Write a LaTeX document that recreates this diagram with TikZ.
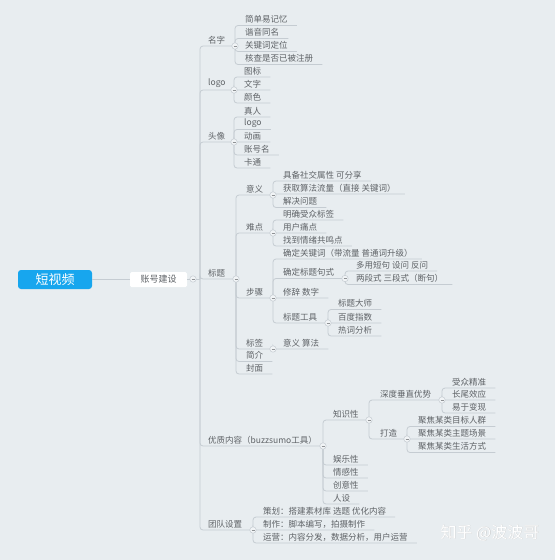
\documentclass[tikz,border=0pt]{standalone}
\usepackage{fontspec}
\newfontfamily\cjk{Noto Sans CJK SC}
\definecolor{bgc}{HTML}{E8EDF0}
\definecolor{linec}{HTML}{C5CCD2}
\definecolor{txt}{HTML}{5E6266}
\definecolor{rootc}{HTML}{17A6EE}
\tikzset{
  lbl/.style={anchor=south west, inner xsep=0pt, inner ysep=1.8pt, font=\cjk\fontsize{8.5}{10}\selectfont, text=txt},
  conn/.style={draw=linec, line width=0.8pt, rounded corners=3pt},
  mk/.style={circle, minimum size=6.4pt, inner sep=0pt, fill=bgc!60!white, draw=linec, line width=0.5pt,
    path picture={\draw[txt!70, line width=0.6pt] ([xshift=-1.5pt]path picture bounding box.center) -- ([xshift=1.5pt]path picture bounding box.center);}}
}
\newcommand\mmleaf[5]{%
  \node[lbl] (#1) at (#2,#3) {#4};
  \draw[conn] (#5) |- ([xshift=9pt]#1.south east);
}
\newcommand\mmpar[6]{%
  \node[lbl] (#1) at (#2,#3) {#4};
  \coordinate (#1m) at (#6,#3);
  \draw[conn] (#5) |- (#1m);
}
\begin{document}
\begin{tikzpicture}[x=1pt,y=-1pt]
\fill[bgc] (0,0) rectangle (555,560);
\useasboundingbox (0,0) rectangle (555,560);

% root
\node[fill=rootc, rounded corners=3pt, minimum width=74pt, minimum height=19pt, inner sep=0pt,
  text=white, font=\cjk\fontsize{13}{15}\selectfont] (root) at (55,279.5) {短视频};
\node[fill=white, rounded corners=1.5pt, minimum width=57pt, minimum height=15pt, inner sep=0pt,
  text=txt, font=\cjk\fontsize{9}{11}\selectfont] (acct) at (158.5,279.5) {账号建设};
\draw[conn] (root.east) -- (acct.west);
\coordinate (acctm) at (193,279);
\coordinate (trunk) at (200,279);
\draw[conn] (acct.east |- acctm) -- (trunk);

% level 1
\mmpar{name}{208}{46}{名字}{trunk}{235}
\mmpar{logo}{208}{90}{logo}{trunk}{234}
\mmpar{avatar}{208}{142}{头像}{trunk}{234}
\mmpar{title}{208}{279}{标题}{trunk}{236}
\mmpar{content}{208}{446}{优质内容（buzzsumo工具）}{trunk}{323}
\mmpar{team}{208}{530}{团队设置}{trunk}{253}

% 名字
\mmleaf{n1}{245}{25.5}{简单易记忆}{namem}
\mmleaf{n2}{245}{38.5}{谐音同名}{namem}
\mmleaf{n3}{245}{51.5}{关键词定位}{namem}
\mmleaf{n4}{245}{64.5}{核查是否已被注册}{namem}

% logo
\mmleaf{l1}{244}{77}{图标}{logom}
\mmleaf{l2}{244}{90}{文字}{logom}
\mmleaf{l3}{244}{103}{颜色}{logom}

% 头像
\mmleaf{a1}{244}{117}{真人}{avatarm}
\mmleaf{a2}{244}{129.5}{logo}{avatarm}
\mmleaf{a3}{244}{142}{动画}{avatarm}
\mmleaf{a4}{244}{155}{账号名}{avatarm}
\mmleaf{a5}{244}{168}{卡通}{avatarm}

% 标题
\mmpar{meaning}{246}{195}{意义}{titlem}{273}
\mmpar{diff}{246}{233}{难点}{titlem}{273}
\mmpar{steps}{246}{298}{步骤}{titlem}{273}
\mmpar{tags}{246}{349}{标签}{titlem}{273}
\mmleaf{intro}{246}{361.5}{简介}{titlem}
\mmleaf{cover}{246}{374}{封面}{titlem}

\mmleaf{m1}{283}{181}{具备社交属性 可分享}{meaningm}
\mmleaf{m2}{283}{194}{获取算法流量（直接 关键词）}{meaningm}
\mmleaf{m3}{283}{207.5}{解决问题}{meaningm}

\mmleaf{d1}{283}{220}{明确受众标签}{diffm}
\mmleaf{d2}{283}{233}{用户痛点}{diffm}
\mmleaf{d3}{283}{246}{找到情绪共鸣点}{diffm}

\mmleaf{s1}{283}{259}{确定关键词（带流量 普通词升级）}{stepsm}
\mmpar{s2}{283}{278.5}{确定标题句式}{stepsm}{345}
\mmleaf{s3}{283}{298}{修辞 数字}{stepsm}
\mmpar{s4}{283}{323}{标题工具}{stepsm}{328}

\mmleaf{s21}{356}{271}{多用短句 设问 反问}{s2m}
\mmleaf{s22}{356}{284.5}{两段式 三段式（断句）}{s2m}

\mmleaf{s41}{338}{309.5}{标题大师}{s4m}
\mmleaf{s42}{338}{323}{百度指数}{s4m}
\mmleaf{s43}{338}{336}{热词分析}{s4m}

\mmleaf{t1}{283}{349}{意义 算法}{tagsm}

% 优质内容
\mmpar{know}{333}{420}{知识性}{contentm}{369}
\mmleaf{fun}{333}{465}{娱乐性}{contentm}
\mmleaf{emo}{333}{478}{情感性}{contentm}
\mmleaf{idea}{333}{491}{创意性}{contentm}
\mmleaf{persona}{333}{504}{人设}{contentm}

\mmpar{deep}{380}{400}{深度垂直优势}{knowm}{442}
\mmpar{build}{380}{439}{打造}{knowm}{407}

\mmleaf{dp1}{452}{388}{受众精准}{deepm}
\mmleaf{dp2}{452}{400}{长尾效应}{deepm}
\mmleaf{dp3}{452}{413}{易于变现}{deepm}

\mmleaf{b1}{418}{426.5}{聚焦某类目标人群}{buildm}
\mmleaf{b2}{418}{439}{聚焦某类主题场景}{buildm}
\mmleaf{b3}{418}{452.5}{聚焦某类生活方式}{buildm}

% 团队设置
\mmleaf{tm1}{263}{517}{策划：搭建素材库 选题 优化内容}{teamm}
\mmleaf{tm2}{263}{530}{制作：脚本编写，拍摄制作}{teamm}
\mmleaf{tm3}{263}{543}{运营：内容分发，数据分析，用户运营}{teamm}

% markers
\foreach \m in {acctm,namem,logom,avatarm,titlem,contentm,teamm,meaningm,diffm,stepsm,tagsm,s2m,s4m,knowm,deepm,buildm}
  \node[mk] at (\m) {};

% watermark
\node[text=gray!45, font=\cjk\fontsize{16}{18}\selectfont, anchor=west] (wms) at (437.4,533.4) {知乎 @波波哥};
\node[text=white, font=\cjk\fontsize{16}{18}\selectfont, anchor=west] (wm) at (437,533) {知乎 @波波哥};
\end{tikzpicture}
\end{document}
